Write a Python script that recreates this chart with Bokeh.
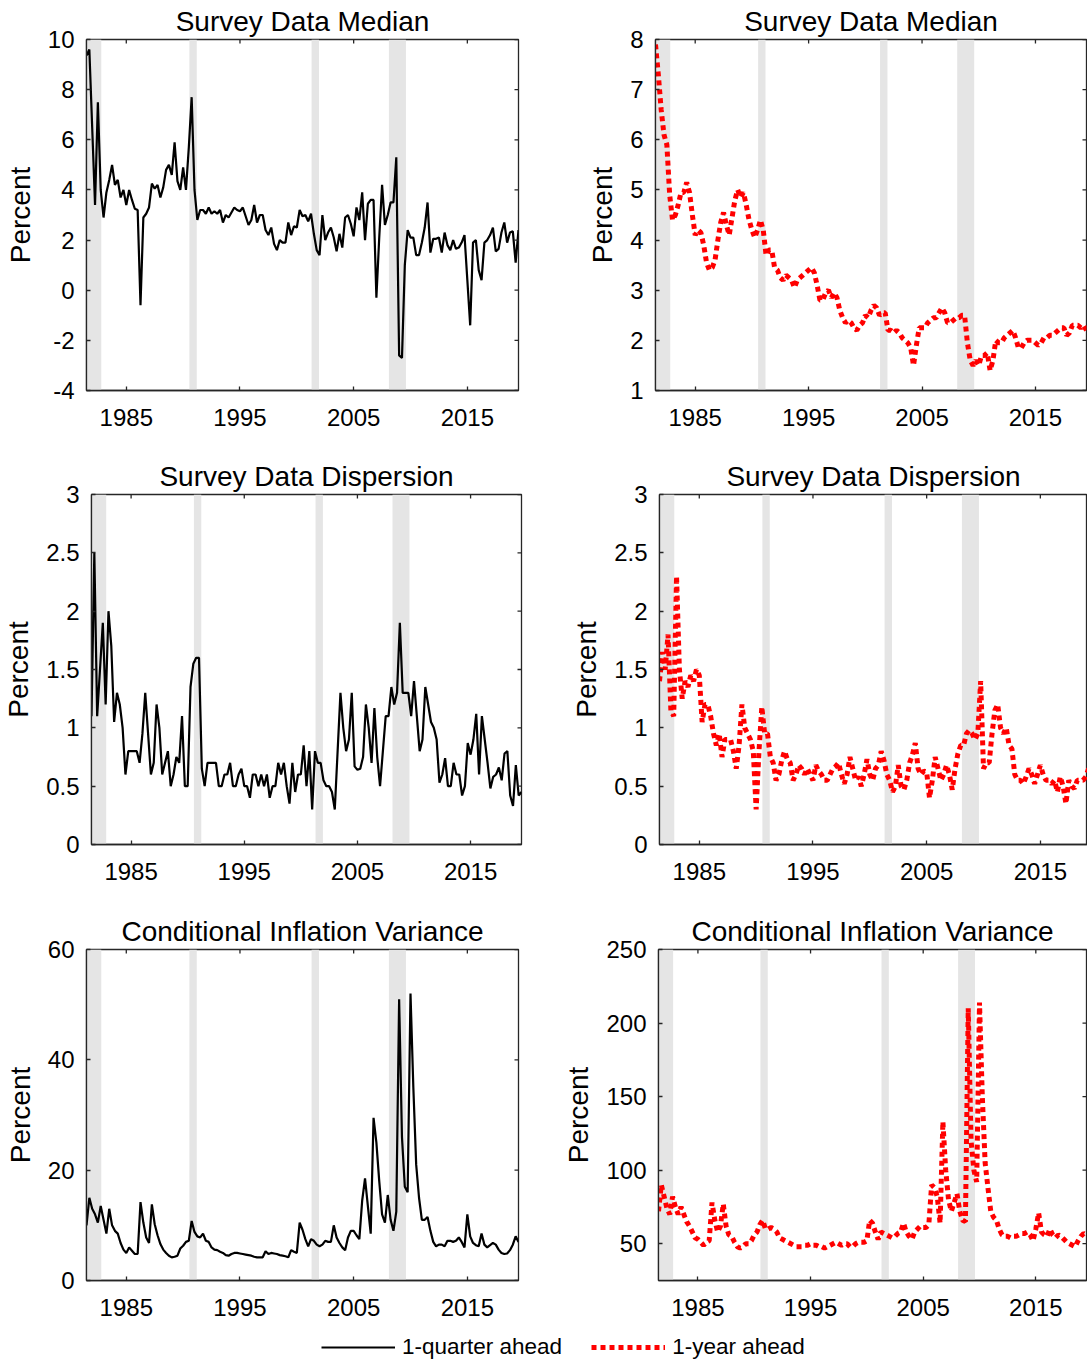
import math

from bokeh.plotting import figure
from bokeh.models import BoxAnnotation, FixedTicker, Range1d, Legend, LegendItem
from bokeh.layouts import column, row
from bokeh.embed import file_html
from bokeh.resources import INLINE

FONT = "Liberation Sans"
AXIS_COLOR = "#262626"

# quarterly observations, 1981Q3 .. 2019Q3
first_quarter = 1981.5
n_quarters = 153
quarters = [first_quarter + 0.25 * k for k in range(n_quarters)]

# NBER recessions
recession_start = [1981.5, 1990.55, 2001.3, 2008.1]
recession_end = [1982.8, 1991.2, 2001.95, 2009.6]

year_ticks = [1985, 1995, 2005, 2015]

median_1q = [
    9.36, 9.6, 6.5, 3.4, 7.5, 4.0, 2.9, 3.9, 4.4, 5.0,
    4.2, 4.4, 3.7, 4.0, 3.4, 4.0, 3.6, 3.25, 3.2, -0.6,
    2.9, 3.05, 3.3, 4.25, 4.05, 4.2, 3.7, 4.1, 4.8, 5.0,
    4.6, 5.9, 4.35, 4.0, 4.9, 4.0, 5.7, 7.7, 4.0, 2.8,
    3.2, 3.2, 3.05, 3.3, 3.05, 3.15, 3.05, 3.2, 2.7, 3.0,
    2.9, 3.1, 3.3, 3.2, 3.15, 3.3, 2.95, 2.6, 2.8, 3.4,
    2.7, 3.0, 3.0, 2.4, 2.2, 2.5, 1.85, 1.6, 2.0, 1.9,
    1.9, 2.7, 2.2, 2.55, 2.5, 3.2, 2.95, 3.0, 2.75, 3.05,
    2.25, 1.6, 1.4, 3.0, 2.0, 2.3, 2.5, 2.1, 1.55, 2.25,
    1.7, 2.9, 3.0, 2.65, 2.15, 3.3, 2.8, 3.9, 2.0, 3.45,
    3.6, 3.6, -0.3, 2.1, 4.2, 2.6, 3.0, 3.5, 3.5, 5.3,
    -2.6, -2.7, 1.0, 2.4, 2.1, 2.1, 1.4, 1.4, 1.9, 2.5,
    3.5, 1.5, 2.05, 2.05, 2.1, 1.5, 2.3, 1.8, 1.6, 2.0,
    1.65, 1.7, 1.9, 2.2, 0.4, -1.4, 1.9, 2.0, 0.8, 0.4,
    1.9, 2.0, 2.2, 2.5, 1.55, 1.65, 2.3, 2.7, 1.9, 2.3,
    2.35, 1.1, 2.4,
]

median_1y = [
    7.9, 7.3, 6.6, 6.1, 5.9, 4.9, 4.4, 4.5, 4.7, 4.95,
    4.95, 5.15, 4.95, 4.5, 4.1, 4.2, 4.15, 3.9, 3.55, 3.4,
    3.45, 3.6, 4.0, 4.35, 4.55, 4.3, 4.1, 4.45, 4.8, 5.0,
    4.85, 4.95, 4.7, 4.4, 4.2, 4.05, 4.2, 4.4, 4.2, 3.7,
    3.8, 3.8, 3.45, 3.4, 3.25, 3.2, 3.3, 3.25, 3.2, 3.05,
    3.2, 3.25, 3.3, 3.35, 3.4, 3.45, 3.35, 3.1, 2.8, 2.8,
    2.95, 3.0, 2.85, 2.95, 2.85, 2.6, 2.45, 2.35, 2.4, 2.35,
    2.25, 2.2, 2.3, 2.35, 2.5, 2.45, 2.6, 2.7, 2.65, 2.5,
    2.55, 2.55, 2.2, 2.2, 2.15, 2.2, 2.15, 2.05, 2.0, 1.95,
    1.85, 1.5, 1.9, 2.25, 2.25, 2.25, 2.35, 2.4, 2.45, 2.45,
    2.55, 2.65, 2.55, 2.35, 2.35, 2.4, 2.45, 2.45, 2.5, 2.5,
    1.95, 1.6, 1.5, 1.6, 1.5, 1.7, 1.7, 1.75, 1.4, 1.6,
    2.0, 1.95, 1.95, 2.05, 2.1, 2.15, 2.2, 2.05, 1.85, 1.85,
    1.95, 2.0, 2.0, 2.0, 1.95, 1.9, 1.95, 2.05, 2.05, 2.1,
    2.1, 2.15, 2.2, 2.25, 2.25, 2.1, 2.15, 2.3, 2.3, 2.3,
    2.25, 2.3, 2.2,
]

dispersion_1q = [
    1.1, 2.5, 1.1, 1.5, 1.9, 1.2, 2.0, 1.7, 1.05, 1.3,
    1.2, 1.0, 0.6, 0.8, 0.8, 0.8, 0.8, 0.7, 0.95, 1.3,
    0.95, 0.6, 0.7, 1.2, 1.0, 0.6, 0.7, 0.8, 0.5, 0.6,
    0.75, 0.7, 1.1, 0.5, 0.5, 1.35, 1.55, 1.6, 1.6, 0.65,
    0.5, 0.7, 0.7, 0.7, 0.7, 0.5, 0.5, 0.6, 0.6, 0.7,
    0.5, 0.5, 0.6, 0.65, 0.5, 0.5, 0.4, 0.6, 0.6, 0.5,
    0.6, 0.5, 0.6, 0.4, 0.5, 0.5, 0.7, 0.6, 0.7, 0.5,
    0.35, 0.7, 0.45, 0.6, 0.6, 0.85, 0.5, 0.8, 0.3, 0.8,
    0.7, 0.7, 0.55, 0.5, 0.5, 0.45, 0.3, 0.8, 1.3, 1.0,
    0.8, 0.9, 1.3, 0.67, 0.64, 0.65, 0.75, 1.2, 1.0, 0.7,
    1.17, 0.75, 0.5, 0.8, 1.1, 1.1, 1.35, 1.2, 1.3, 1.9,
    1.3, 1.3, 1.3, 1.1, 1.4, 1.1, 0.8, 0.9, 1.35, 1.2,
    1.05, 1.0, 0.9, 0.53, 0.6, 0.74, 0.5, 0.5, 0.7, 0.6,
    0.6, 0.42, 0.5, 0.87, 0.77, 0.9, 1.12, 0.6, 1.1, 0.9,
    0.7, 0.48, 0.58, 0.6, 0.66, 0.55, 0.78, 0.8, 0.42, 0.33,
    0.68, 0.42, 0.45,
]

dispersion_1y = [
    1.4, 1.65, 1.5, 1.8, 1.15, 1.1, 2.3, 1.5, 1.25, 1.4,
    1.35, 1.45, 1.4, 1.5, 1.45, 1.05, 1.2, 1.2, 1.1, 0.95,
    0.85, 0.95, 0.75, 0.9, 0.9, 0.9, 0.8, 0.65, 0.85, 1.2,
    1.0, 0.95, 0.9, 0.8, 0.3, 0.8, 1.18, 0.95, 0.95, 0.75,
    0.7, 0.55, 0.6, 0.72, 0.8, 0.73, 0.7, 0.55, 0.6, 0.68,
    0.65, 0.6, 0.65, 0.6, 0.55, 0.68, 0.63, 0.6, 0.55, 0.55,
    0.6, 0.65, 0.67, 0.7, 0.6, 0.52, 0.6, 0.75, 0.65, 0.55,
    0.58, 0.5, 0.6, 0.73, 0.6, 0.55, 0.65, 0.68, 0.8, 0.72,
    0.6, 0.55, 0.45, 0.5, 0.68, 0.5, 0.47, 0.55, 0.7, 0.77,
    0.87, 0.65, 0.6, 0.63, 0.62, 0.4, 0.55, 0.75, 0.65, 0.55,
    0.6, 0.68, 0.6, 0.47, 0.65, 0.78, 0.85, 0.85, 0.95, 0.98,
    0.95, 0.9, 0.95, 1.4, 0.65, 0.7, 0.7, 0.95, 1.15, 1.2,
    1.0, 0.95, 1.0, 0.85, 0.82, 0.6, 0.55, 0.55, 0.52, 0.58,
    0.65, 0.6, 0.52, 0.6, 0.68, 0.6, 0.55, 0.55, 0.52, 0.55,
    0.45, 0.58, 0.5, 0.35, 0.55, 0.5, 0.48, 0.55, 0.55, 0.55,
    0.58, 0.65, 0.6,
]

variance_1q = [
    10, 15, 13, 12, 10.5, 13.5, 11, 8.5, 13, 10,
    9, 8.5, 6.8, 5.6, 5, 6, 5.4, 4.8, 4.8, 14.2,
    10.5, 7.8, 6.8, 13.8, 10.2, 8.2, 6.6, 5.6, 5.0, 4.5,
    4.2, 4.3, 4.5, 5.8, 6.3, 7, 7.2, 10.8, 8.8, 8,
    7.8, 8.5, 7.2, 7, 6, 5.6, 5.5, 5.2, 5, 4.6,
    4.5, 4.8, 5, 5, 4.9, 4.8, 4.7, 4.6, 4.5, 4.3,
    4.2, 4.2, 4.2, 5.3, 4.8, 5, 4.9, 4.8, 4.6, 4.5,
    4.4, 4.2, 5.5, 5.2, 5, 10.5, 9.2, 7.5, 6.2, 7.5,
    7.2, 6.5, 6.2, 6.5, 7.2, 7, 7, 10, 7.8, 6.8,
    6, 5.5, 7.8, 9, 9, 8.2, 7.5, 14.5, 18.5, 13.5,
    8.5, 29.5, 25, 18, 12, 10.5, 15.5, 11, 9, 12.5,
    51, 26, 17, 16, 52, 35, 21, 15, 11, 11,
    11.5, 9, 7, 6.2, 6.5, 6.5, 6.2, 7.2, 7.2, 7,
    7.2, 7.8, 7, 6, 12, 8, 6.8, 6.4, 6.2, 8.5,
    6.5, 6, 6.4, 6.8, 6.5, 5.6, 5, 4.8, 4.9, 5.5,
    6.5, 8, 7,
]

variance_1y = [
    72, 90, 82, 74, 70, 82, 75, 70, 75, 70,
    65, 62, 58, 54, 53, 51, 49, 51, 52, 78,
    66, 58, 62, 77, 62, 56, 55, 51, 48, 47,
    48, 50, 50, 52, 56, 58, 63, 66, 60, 60,
    61, 60, 58, 54, 53, 52, 51, 50, 49, 48,
    48, 48, 49, 49, 50, 49, 49, 48, 48, 47,
    48, 49, 50, 51, 50, 49, 50, 50, 48, 48,
    50, 51, 51, 51, 52, 66, 64, 58, 53, 58,
    57, 56, 55, 54, 55, 57, 58, 64, 58, 55,
    53, 58, 60, 62, 61, 61, 63, 90, 88, 82,
    64, 133, 100, 80, 72, 78, 84, 72, 66, 65,
    210, 120, 100, 92, 214, 150, 105, 88, 72, 68,
    66, 60, 56, 55, 55, 54, 55, 55, 56, 57,
    57, 58, 56, 52, 60, 71, 58, 56, 55, 60,
    56, 54, 56, 55, 53, 51, 50, 49, 48, 52,
    55, 57, 56,
]

median_1q_ticks = [-4, -2, 0, 2, 4, 6, 8, 10]
median_1q_labels = ["-4", "-2", "0", "2", "4", "6", "8", "10"]
median_1y_ticks = [1, 2, 3, 4, 5, 6, 7, 8]
median_1y_labels = ["1", "2", "3", "4", "5", "6", "7", "8"]
dispersion_ticks = [0, 0.5, 1, 1.5, 2, 2.5, 3]
dispersion_labels = ["0", "0.5", "1", "1.5", "2", "2.5", "3"]
variance_1q_ticks = [0, 20, 40, 60]
variance_1q_labels = ["0", "20", "40", "60"]
variance_1y_ticks = [50, 100, 150, 200, 250]
variance_1y_labels = ["50", "100", "150", "200", "250"]

solid_black = dict(line_color="black", line_width=2.2)
dotted_red = dict(line_color="red", line_width=5, line_dash="5 4", line_cap="butt")


def style_axis(axis, ticks, labels, standoff):
    axis.ticker = FixedTicker(ticks=ticks)
    axis.axis_line_color = AXIS_COLOR
    axis.axis_line_width = 1.3
    axis.major_tick_line_color = AXIS_COLOR
    axis.major_tick_line_width = 1.3
    axis.major_tick_in = 4
    axis.major_tick_out = 0
    axis.minor_tick_line_color = None
    axis.major_label_text_font = FONT
    axis.major_label_text_color = "black"
    axis.major_label_text_font_size = "24px"
    axis.major_label_standoff = standoff
    axis.major_label_overrides = {t: s for t, s in zip(ticks, labels)}


def panel(title, series, style, y_lim, y_ticks, y_labels, width, height,
          border_left, border_right, border_bottom, x_end=2019.5, right_ticks=True):
    p = figure(width=width, height=height, title=title,
               x_range=Range1d(first_quarter, x_end), y_range=Range1d(*y_lim),
               toolbar_location=None, output_backend="svg",
               min_border_left=border_left, min_border_right=border_right,
               min_border_top=39, min_border_bottom=border_bottom)
    p.title.align = "center"
    p.title.text_font = FONT
    p.title.text_font_size = "28px"
    p.title.text_font_style = "normal"
    p.title.text_color = "black"
    p.title.standoff = 6
    p.xgrid.visible = False
    p.ygrid.visible = False
    p.outline_line_color = AXIS_COLOR
    p.outline_line_width = 1.3
    p.background_fill_color = "white"
    p.border_fill_color = "white"

    for s, e in zip(recession_start, recession_end):
        p.add_layout(BoxAnnotation(left=s, right=e, fill_color="#e5e5e5", fill_alpha=1.0,
                                   line_alpha=0, level="underlay"))

    p.line(quarters, series, **style)

    # mirrored tick marks along the top and right edges of the box
    # (centred on the edge; the frame clips the outer half)
    p.scatter(year_ticks, [y_lim[1]] * len(year_ticks), marker="dash", size=8,
              angle=math.pi / 2, line_color=AXIS_COLOR, line_width=1.3)
    if right_ticks:
        p.scatter([x_end] * len(y_ticks), y_ticks, marker="dash", size=8,
                  line_color=AXIS_COLOR, line_width=1.3)

    style_axis(p.xaxis[0], year_ticks, [str(y) for y in year_ticks], 18)
    yl = p.yaxis[0]
    style_axis(yl, y_ticks, y_labels, 12)
    yl.axis_label = "Percent"
    yl.axis_label_text_font = FONT
    yl.axis_label_text_font_size = "28px"
    yl.axis_label_text_font_style = "normal"
    yl.axis_label_text_color = "black"
    yl.axis_label_standoff = 9
    return p


LEFT_W, RIGHT_W = 560, 527

p1 = panel("Survey Data Median", median_1q, solid_black, (-4, 10),
           median_1q_ticks, median_1q_labels, LEFT_W, 455, 86, 42, 65)
p2 = panel("Survey Data Median", median_1y, dotted_red, (1, 8),
           median_1y_ticks, median_1y_labels, RIGHT_W, 455, 95, 1, 65)
p3 = panel("Survey Data Dispersion", dispersion_1q, solid_black, (0, 3),
           dispersion_ticks, dispersion_labels, LEFT_W, 455, 89, 39, 66)
p4 = panel("Survey Data Dispersion", dispersion_1y, dotted_red, (0, 3),
           dispersion_ticks, dispersion_labels, RIGHT_W, 455, 99, 0, 66,
           x_end=first_quarter + 38 * 428 / 432, right_ticks=False)
p5 = panel("Conditional Inflation Variance", variance_1q, solid_black, (0, 60),
           variance_1q_ticks, variance_1q_labels, LEFT_W, 418, 86, 42, 48)
p6 = panel("Conditional Inflation Variance", variance_1y, dotted_red, (25, 250),
           variance_1y_ticks, variance_1y_labels, RIGHT_W, 418, 95, 1, 48)

# shared legend strip below the panels; its lines hold the series but the
# strip's ranges keep them out of view, so only the legend samples show
lg = figure(width=1087, height=36, x_range=Range1d(0, 1), y_range=Range1d(0, 1),
            toolbar_location=None, output_backend="svg", min_border=0,
            x_axis_type=None, y_axis_type=None)
lg.outline_line_color = None
r_q = lg.line(quarters, median_1q, **solid_black)
r_y = lg.line(quarters, median_1y, **dotted_red)
legend = Legend(items=[LegendItem(label="1-quarter ahead", renderers=[r_q]),
                       LegendItem(label="1-year ahead", renderers=[r_y])],
                orientation="horizontal", location=(321, 4),
                glyph_width=74, glyph_height=20, label_standoff=7, spacing=29,
                padding=0, margin=0, border_line_color=None, background_fill_alpha=0,
                label_text_font=FONT, label_text_font_size="22.5px", label_text_color="black")
lg.add_layout(legend, "center")

layout = column(row(p1, p2), row(p3, p4), row(p5, p6), lg)

open("out.html", "w").write(file_html(layout, INLINE))
